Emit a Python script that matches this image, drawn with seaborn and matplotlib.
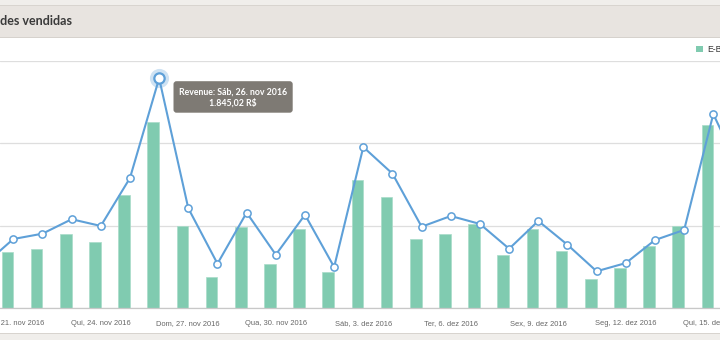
import matplotlib
matplotlib.use("Agg")
import matplotlib.pyplot as plt
import seaborn as sns
import pandas as pd
import numpy as np
from matplotlib.patches import Rectangle, FancyBboxPatch

# ---------------- data ----------------
dias = ["Dom, 20. nov 2016", "Seg, 21. nov 2016", "Ter, 22. nov 2016", "Qua, 23. nov 2016",
        "Qui, 24. nov 2016", "Sex, 25. nov 2016", "Sáb, 26. nov 2016", "Dom, 27. nov 2016",
        "Seg, 28. nov 2016", "Ter, 29. nov 2016", "Qua, 30. nov 2016", "Qui, 1. dez 2016",
        "Sex, 2. dez 2016", "Sáb, 3. dez 2016", "Dom, 4. dez 2016", "Seg, 5. dez 2016",
        "Ter, 6. dez 2016", "Qua, 7. dez 2016", "Qui, 8. dez 2016", "Sex, 9. dez 2016",
        "Sáb, 10. dez 2016", "Dom, 11. dez 2016", "Seg, 12. dez 2016", "Ter, 13. dez 2016",
        "Qua, 14. dez 2016", "Qui, 15. dez 2016", "Sex, 16. dez 2016"]
ebook = [14.0, 20.3, 21.3, 26.9, 23.9, 41.2, 67.7, 29.9, 11.2, 29.5, 16.1, 28.7, 13.1, 46.7,
         40.3, 25.2, 26.9, 30.5, 19.2, 28.7, 20.7, 10.5, 14.7, 22.7, 29.9, 66.5, 40.0]
revenue = [348, 554, 597, 713, 659, 1044, 1845.02, 801, 356, 766, 428, 749, 329, 1293,
           1079, 653, 739, 675, 476, 699, 508, 295, 361, 546, 627, 1558, 1060]
rotulos_idx = [1, 4, 7, 10, 13, 16, 19, 22, 25]
destaque = 6
titulo = "Quantidades vendidas"
titulo_corte = "Quantida"
serie_nome = "E-Book"
serie_oculta = "Livro"

GREEN = "#80cbb0"
BLUE = "#5ea0d8"

n = len(dias)
df = pd.DataFrame({"idx": np.arange(n), "dia": dias, serie_nome: ebook,
                   serie_oculta: [np.nan] * n, "Revenue": revenue})
longo = df.melt(id_vars="idx", value_vars=[serie_nome, serie_oculta],
                var_name="serie", value_name="qtd")

sns.set_style("white")
plt.rcParams["font.family"] = ["Liberation Sans", "DejaVu Sans"]

W, H = 720, 340
fig = plt.figure(figsize=(W / 100, H / 100), dpi=100)
fig.patch.set_facecolor("white")

# background panels (page chrome)
def px_rect(x0, y0, x1, y1, color, z=0):
    fig.patches.append(Rectangle((x0 / W, 1 - y1 / H), (x1 - x0) / W, (y1 - y0) / H,
                                 transform=fig.transFigure, facecolor=color,
                                 edgecolor="none", zorder=z))

px_rect(0, 0, W, 5, "#f0eeeb")
px_rect(0, 5, W, 37, "#e8e4e0")
px_rect(0, 4.5, W, 5.5, "#d8d4cf", 1)
px_rect(0, 36.5, W, 37.5, "#d6d2cd", 1)
px_rect(0, 333, W, H, "#f0eeeb")
px_rect(0, 332.5, W, 333.5, "#d8d4cf", 1)

# title: full text, shifted left so that it is cut like in the screenshot
renderer = fig.canvas.get_renderer()
tfont = dict(fontsize=9.0, fontweight="bold", family=["Lato", "DejaVu Sans"])
probe = fig.text(0, 0, titulo_corte, **tfont)
corte_px = probe.get_window_extent(renderer).width
probe.remove()
fig.text((0.5 - corte_px) / W, 1 - 21 / H, titulo, color="#3a3a3a", ha="left",
         va="center", **tfont)

# axes area: bottom axis line at y=308, top gridline at y=60.5
top_px, bot_px = 60.5, 308
ax = fig.add_axes([0, 1 - bot_px / H, 1, (bot_px - top_px) / H])
ax.set_facecolor("none")

sns.barplot(data=longo, x="idx", y="qtd", hue="serie", hue_order=[serie_nome, serie_oculta],
            palette={serie_nome: GREEN, serie_oculta: "#555555"}, dodge=True, width=0.8,
            gap=0, saturation=1, edgecolor="#a9dcc9", linewidth=0.5, errorbar=None,
            legend=False, ax=ax, zorder=2)

ax.set_ylim(0, 90)
ax.set_yticks([0, 30, 60, 90])
ax.yaxis.grid(True, color="#dedede", linewidth=0.9, zorder=0)
ax.set_axisbelow(True)
ax.tick_params(axis="y", length=0, labelleft=False)
for s in ["top", "left", "right"]:
    ax.spines[s].set_visible(False)
ax.spines["bottom"].set_color("#c8c8c8")
ax.spines["bottom"].set_linewidth(0.9)
ax.set_xlabel("")
ax.set_ylabel("")

ax2 = ax.twinx()
sns.lineplot(data=df, x="idx", y="Revenue", ax=ax2, color=BLUE, linewidth=1.5,
             marker="o", markersize=5.2, markerfacecolor="white",
             markeredgecolor=BLUE, markeredgewidth=1.1, zorder=5)
ax2.scatter([df["idx"][destaque]], [df["Revenue"][destaque]], s=190, color=BLUE,
            alpha=0.3, linewidths=0, zorder=6)
ax2.scatter([df["idx"][destaque]], [df["Revenue"][destaque]], s=55, facecolor="white",
            edgecolor=BLUE, linewidths=1.6, zorder=7)
ax2.set_ylim(0, (bot_px - top_px) / ((bot_px - 78.3) / revenue[destaque]))
ax2.set_yticks([])
ax2.set_ylabel("")
ax2.set_xlabel("")
for s in ax2.spines.values():
    s.set_visible(False)

# x axis ticks first, then limits (21 nov at 13.3 px, 15 dez at 713.3 px)
ax.set_xticks(df["idx"])
ax.set_xticklabels([dias[i] if i in rotulos_idx else "" for i in range(n)])
ax.tick_params(axis="x", length=3.8, width=0.8, color="#c8c8c8", pad=4.6,
               labelsize=5.4, labelcolor="#666666")
pxu = (713.3 - 13.3) / 24
left = 1 - 13.3 / pxu
ax.set_xlim(left, left + W / pxu)

# legend
fig.legend(handles=[Rectangle((0, 0), 1, 1, facecolor=GREEN, edgecolor="none")],
           labels=[serie_nome], loc="center left",
           bbox_to_anchor=(696 / W, 1 - 49.5 / H), frameon=False, fontsize=6.2,
           handlelength=0.85, handleheight=0.85, handletextpad=0.45, borderpad=0,
           borderaxespad=0, labelcolor="#333333")

# tooltip
d = fig.dpi
box = FancyBboxPatch((173.5 / d, (H - 112.7) / d), (292.7 - 173.5) / d, (112.7 - 81.2) / d,
                     boxstyle="round,pad=0,rounding_size=0.03",
                     transform=fig.dpi_scale_trans, facecolor="#7a766f",
                     edgecolor="none", zorder=10, alpha=0.97)
fig.patches.append(box)
fig.text(233 / W, 1 - 91.7 / H, "Revenue: " + dias[destaque], fontsize=6.3,
         fontweight="bold", family=["Lato", "DejaVu Sans"], color="white",
         ha="center", va="center", zorder=11)
valor = f"{revenue[destaque]:,.2f}".replace(",", "X").replace(".", ",").replace("X", ".")
fig.text(233 / W, 1 - 102.9 / H, valor + " R$", fontsize=6.3, fontweight="bold",
         family=["Lato", "DejaVu Sans"], color="white", ha="center", va="center", zorder=11)

fig.savefig("out.png", dpi=100)
